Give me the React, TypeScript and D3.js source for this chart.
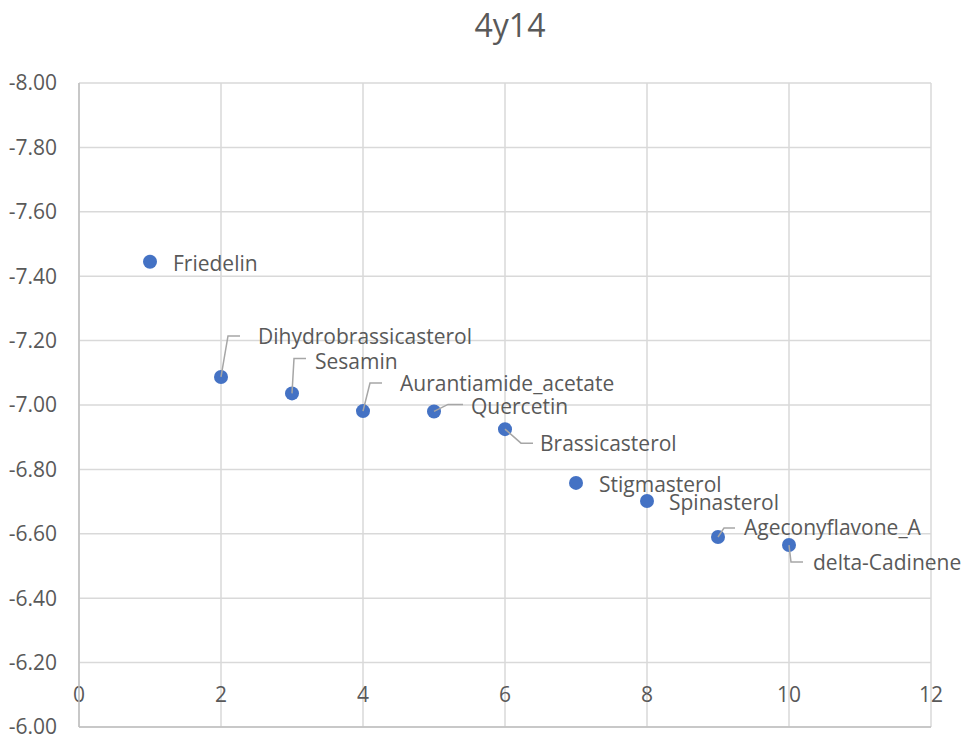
import React from "react";
import * as d3 from "d3";

const names = [
  "Friedelin",
  "Dihydrobrassicasterol",
  "Sesamin",
  "Aurantiamide_acetate",
  "Quercetin",
  "Brassicasterol",
  "Stigmasterol",
  "Spinasterol",
  "Ageconyflavone_A",
  "delta-Cadinene",
];
const xValues = [1, 2, 3, 4, 5, 6, 7, 8, 9, 10];
const yValues = [-7.445, -7.087, -7.036, -6.981, -6.98, -6.925, -6.758, -6.702, -6.59, -6.565];
const xTicks = [0, 2, 4, 6, 8, 10, 12];
const yTicks = [-8, -7.8, -7.6, -7.4, -7.2, -7, -6.8, -6.6, -6.4, -6.2, -6];

// label placement (pixel offsets from the point): text start dx, text center dy, leader elbow
const labelDx = [23, 37, 23, 37, 37, 35, 23, 22, 26, 24];
const labelDy = [2, -40, -32, -27, -5, 14, 2, 2, -9, 18];
const leaderElbow: ([number, number, number] | null)[] = [
  null,
  [7, -41, 12],
  [2, -35, 12],
  [7, -28, 12],
  [14, -7, 15],
  [16, 14, 12],
  null,
  null,
  [6, -9, 11],
  [2, 17, 12],
];

const W = 962;
const H = 738;
const M = { left: 79, right: 931, top: 83, bottom: 727 };
const FONT = "'Open Sans', 'Noto Sans', sans-serif";
const TEXT = "#595959";

export default function App() {
  const x = d3.scaleLinear().domain([0, 12]).range([M.left, M.right]);
  const y = d3.scaleLinear().domain([-8, -6]).range([M.top, M.bottom]);
  const fmt = (v: number) => d3.format(".2f")(v).replace("\u2212", "-");

  return (
    <svg
      width={W}
      height={H}
      style={{ position: "absolute", left: 0, top: 0, background: "#fff" }}
      fontFamily={FONT}
    >
      <rect width={W} height={H} fill="#fff" />
      <text x={510} y={37} textAnchor="middle" fontSize={32} fill={TEXT}>
        4y14
      </text>
      {yTicks.map((t) => (
        <g key={"y" + t}>
          <line x1={M.left} x2={M.right} y1={y(t)} y2={y(t)} stroke="#d9d9d9" strokeWidth={1.5} />
          <text x={57} y={y(t)} dy="0.35em" textAnchor="end" fontSize={21} fill={TEXT}>
            {fmt(t)}
          </text>
        </g>
      ))}
      {xTicks.map((t) => (
        <g key={"x" + t}>
          <line x1={x(t)} x2={x(t)} y1={M.top} y2={M.bottom} stroke="#d9d9d9" strokeWidth={1.5} />
          <text x={x(t)} y={695} dy="0.35em" textAnchor="middle" fontSize={21} fill={TEXT}>
            {t}
          </text>
        </g>
      ))}
      <line x1={M.left} x2={M.right} y1={M.bottom} y2={M.bottom} stroke="#bfbfbf" strokeWidth={1.5} />
      <line x1={M.left} x2={M.left} y1={M.top} y2={M.bottom} stroke="#bfbfbf" strokeWidth={1.5} />
      {xValues.map((xv, i) => (
        <circle key={"c" + i} cx={x(xv)} cy={y(yValues[i])} r={7} fill="#4472C4" />
      ))}
      {xValues.map((xv, i) => {
        const e = leaderElbow[i];
        if (!e) return null;
        const px = x(xv);
        const py = y(yValues[i]);
        const pts = [
          [px, py],
          [px + e[0], py + e[1]],
          [px + e[0] + e[2], py + e[1]],
        ] as [number, number][];
        return (
          <path key={"l" + i} d={d3.line()(pts) || ""} fill="none" stroke="#a6a6a6" strokeWidth={1.5} />
        );
      })}
      {xValues.map((xv, i) => (
        <text
          key={"t" + i}
          x={x(xv) + labelDx[i]}
          y={y(yValues[i]) + labelDy[i]}
          dy="0.35em"
          fontSize={21}
          fill={TEXT}
        >
          {names[i]}
        </text>
      ))}
    </svg>
  );
}
